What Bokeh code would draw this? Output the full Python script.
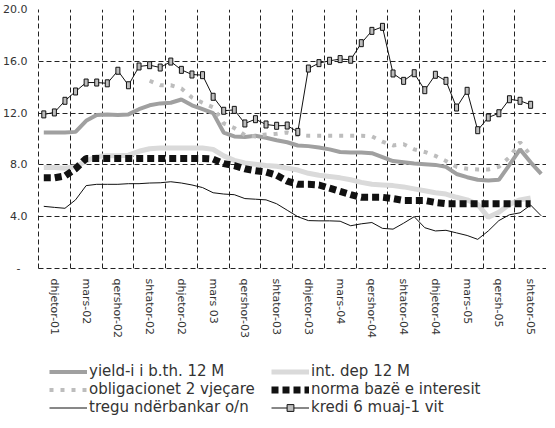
import math
from bokeh.plotting import figure
from bokeh.layouts import column
from bokeh.models import FixedTicker, Legend, LegendItem, Range1d
from bokeh.embed import file_html
from bokeh.resources import INLINE

# ---- data (monthly, dhjetor-01 = index 0) ----
tick_labels = ["dhjetor-01", "mars-02", "qershor-02", "shtator-02", "dhjetor-02",
               "mars 03", "qershor-03", "shtator-03", "dhjetor-03", "mars-04",
               "qershor-04", "shtator-04", "dhjetor-04", "mars-05", "qersh-05", "shtator-05"]

yield_12m = [10.5, 10.5, 10.5, 10.55, 11.4, 11.85, 11.9, 11.85, 11.9, 12.3, 12.6, 12.75,
             12.8, 13.05, 12.6, 12.3, 12.0, 10.5, 10.2, 10.15, 10.25, 10.1, 9.9, 9.75,
             9.5, 9.45, 9.35, 9.2, 9.0, 8.95, 8.95, 8.9, 8.6, 8.3, 8.2, 8.1,
             8.05, 8.0, 7.85, 7.3, 7.05, 6.85, 6.8, 6.85, 8.0, 9.2, 8.2, 7.3]

int_dep_12m = [7.8, 7.8, 7.75, 7.85, 8.3, 8.65, 8.7, 8.7, 8.75, 9.05, 9.25, 9.3,
               9.3, 9.3, 9.3, 9.3, 9.2, 8.7, 8.35, 8.15, 8.05, 7.95, 7.9, 7.75,
               7.6, 7.35, 7.2, 7.1, 7.0, 6.85, 6.65, 6.5, 6.45, 6.4, 6.3, 6.15,
               6.0, 5.85, 5.75, 5.5, 5.3, 4.95, 3.95, 4.35, 4.95, 5.3, 5.45]

oblig_start = 10
oblig_2v = [14.5, 14.15, 14.15, 13.9, 13.2, 12.8, 12.45, 11.2, 10.85, 10.3, 10.2, 10.35,
            10.4, 10.5, 10.3, 10.25, 10.25, 10.25, 10.25, 10.25, 10.25, 10.2, 9.8, 9.5,
            9.6, 9.2, 9.0, 8.7, 8.3, 7.85, 7.7, 7.65, 7.65, 7.85, 8.6, 9.75, 8.75]

norma_baze = [7.0, 7.0, 7.15, 7.7, 8.5, 8.5, 8.5, 8.5, 8.5, 8.5, 8.5, 8.5,
              8.5, 8.5, 8.5, 8.5, 8.45, 8.1, 7.95, 7.7, 7.55, 7.45, 7.2, 6.75,
              6.5, 6.5, 6.45, 6.2, 5.95, 5.7, 5.5, 5.5, 5.5, 5.4, 5.25, 5.25,
              5.25, 5.1, 5.0, 5.0, 5.0, 5.0, 5.0, 5.0, 5.0, 5.0, 5.0]

tregu_on = [4.8, 4.72, 4.65, 5.3, 6.4, 6.5, 6.5, 6.5, 6.55, 6.55, 6.6, 6.62,
            6.7, 6.6, 6.45, 6.25, 5.85, 5.75, 5.7, 5.4, 5.35, 5.3, 5.0, 4.5,
            4.0, 3.7, 3.68, 3.68, 3.65, 3.3, 3.45, 3.55, 3.1, 3.04, 3.5, 4.0,
            3.15, 2.9, 2.95, 2.75, 2.55, 2.25, 2.9, 3.7, 4.15, 4.3, 4.9, 4.07]

kredi_6m = [11.9, 12.05, 12.95, 13.67, 14.36, 14.36, 14.3, 15.27, 14.15, 15.6, 15.7, 15.52,
            15.98, 15.34, 14.98, 14.93, 13.26, 12.18, 12.25, 11.2, 11.53, 11.12, 11.02, 11.04,
            10.55, 15.44, 15.86, 16.04, 16.17, 16.12, 17.4, 18.35, 18.66, 15.06, 14.49, 15.08,
            13.77, 14.96, 14.49, 12.43, 13.72, 10.68, 11.66, 11.99, 13.07, 12.95, 12.64]

series_names = ["yield-i i b.th. 12 M", "obligacionet 2 vjeçare", "tregu ndërbankar o/n",
                "int. dep 12 M", "norma bazë e interesit", "kredi 6 muaj-1 vit"]

y_ticks = [0, 4, 8, 12, 16, 20]
y_tick_labels = ["-\u00a0\u00a0", "4.0", "8.0", "12.0", "16.0", "20.0"]

FONT = "DejaVu Sans"

STYLE = {
    "yield": dict(line_color="#a0a0a0", line_width=4),
    "int": dict(line_color="#dadada", line_width=5),
    "obl": dict(line_color="#bdbdbd", line_width=4, line_dash="4 7"),
    "norma": dict(line_color="#111111", line_width=7, line_dash="7 4"),
    "tregu": dict(line_color="#111111", line_width=1),
    "kredi": dict(line_color="#111111", line_width=1),
}

def xs(vals, start=0):
    return list(range(start, start + len(vals)))

def draw_series(fig, visible=True):
    r = {}
    r["int"] = fig.line(xs(int_dep_12m), int_dep_12m, visible=visible, **STYLE["int"])
    r["yield"] = fig.line(xs(yield_12m), yield_12m, visible=visible, **STYLE["yield"])
    r["obl"] = fig.line(xs(oblig_2v, oblig_start), oblig_2v, visible=visible, **STYLE["obl"])
    r["norma"] = fig.line(xs(norma_baze), norma_baze, visible=visible, **STYLE["norma"])
    r["tregu"] = fig.line(xs(tregu_on), tregu_on, visible=visible, **STYLE["tregu"])
    r["kredi"] = fig.line(xs(kredi_6m), kredi_6m, visible=visible, **STYLE["kredi"])
    return r

# ---------------- main chart ----------------
p = figure(width=546, height=350,
           x_range=Range1d(-0.5, 47.5), y_range=Range1d(0, 20),
           output_backend="svg", toolbar_location=None,
           min_border_left=37, min_border_right=0, min_border_top=9, min_border_bottom=82,
           outline_line_color=None, background_fill_color="white", border_fill_color="white")

p.xgrid.ticker = FixedTicker(ticks=[-0.5 + 3 * k for k in range(1, 16)])
p.ygrid.ticker = FixedTicker(ticks=[4, 8, 12, 16, 20])
for g in (p.xgrid, p.ygrid):
    g.grid_line_color = "#222222"
    g.grid_line_dash = "5 3"
    g.grid_line_width = 1

label_pos = [3 * k + 1.0 for k in range(16)]
xa = p.xaxis[0]
xa.ticker = FixedTicker(ticks=label_pos)
xa.major_label_overrides = {pos: lab for pos, lab in zip(label_pos, tick_labels)}
xa.major_label_orientation = -math.pi / 2
xa.major_tick_line_color = None
xa.minor_tick_line_color = None
xa.major_tick_in = 0
xa.major_tick_out = 0
xa.major_label_standoff = 10
xa.axis_line_color = "#222222"
xa.axis_line_dash = "5 3"
xa.major_label_text_font = FONT
xa.major_label_text_font_size = "11px"
xa.major_label_text_color = "#333333"

ya = p.yaxis[0]
ya.ticker = FixedTicker(ticks=y_ticks)
ya.major_label_overrides = {t: lab for t, lab in zip(y_ticks, y_tick_labels)}
ya.major_tick_line_color = None
ya.minor_tick_line_color = None
ya.major_tick_in = 0
ya.major_tick_out = 0
ya.major_label_standoff = 11
ya.axis_line_color = "#222222"
ya.axis_line_dash = "5 3"
ya.major_label_text_font = FONT
ya.major_label_text_font_size = "11px"
ya.major_label_text_color = "#333333"

draw_series(p)
p.rect(xs(kredi_6m), kredi_6m, width=4, height=7,
       width_units="screen", height_units="screen",
       fill_color="#bdbdbd", line_color="#111111", line_width=1)

# ---------------- legend strip ----------------
lg = figure(width=546, height=68, x_range=Range1d(0, 1), y_range=Range1d(0, 1),
            output_backend="svg", toolbar_location=None,
            x_axis_type=None, y_axis_type=None, min_border=0,
            outline_line_color=None, background_fill_color="white", border_fill_color="white")
lr = draw_series(lg, visible=False)
lr_mark = lg.scatter(xs(kredi_6m), kredi_6m, marker="square", size=5,
                     fill_color="#bdbdbd", line_color="#111111", line_width=1, visible=False)

items = [
    LegendItem(label=series_names[0], renderers=[lr["yield"]]),
    LegendItem(label=series_names[1], renderers=[lr["obl"]]),
    LegendItem(label=series_names[2], renderers=[lr["tregu"]]),
    LegendItem(label=series_names[3], renderers=[lr["int"]]),
    LegendItem(label=series_names[4], renderers=[lr["norma"]]),
    LegendItem(label=series_names[5], renderers=[lr["kredi"], lr_mark]),
]
legend = Legend(items=items, location=(11, 2), orientation="vertical", nrows=3, ncols=2,
                glyph_width=38, glyph_height=17, label_height=17, label_width=182,
                label_standoff=2, spacing=0, padding=4, margin=0,
                border_line_color=None, background_fill_alpha=0,
                label_text_font=FONT, label_text_font_size="15px",
                label_text_color="#333333")
lg.add_layout(legend, "center")

layout = column(p, lg, spacing=0)
open("out.html", "w").write(file_html(layout, INLINE))
